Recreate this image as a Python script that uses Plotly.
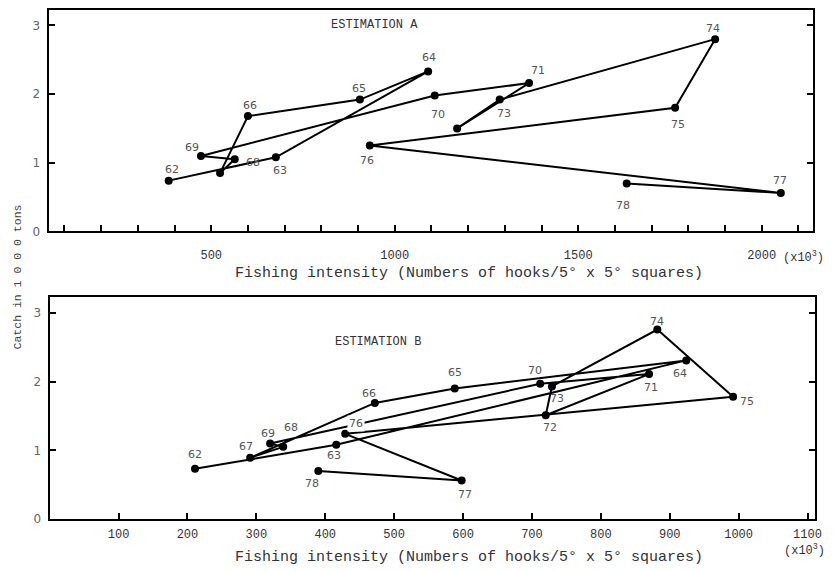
import plotly.graph_objects as go

# ---------------- data ----------------
years = ["62", "63", "64", "65", "66", "67", "68", "69", "70",
         "71", "72", "73", "74", "75", "76", "77", "78"]

# Estimation A
intensity_a = [384, 676, 1091, 905, 600, 524, 564, 472, 1109,
               1366, 1170, 1286, 1873, 1764, 932, 2052, 1632]
catch_a = [0.74, 1.08, 2.33, 1.92, 1.68, 0.85, 1.05, 1.10, 1.98,
           2.16, 1.50, 1.92, 2.80, 1.80, 1.25, 0.56, 0.70]

# Estimation B
intensity_b = [211, 416, 924, 588, 472, 291, 339, 320, 712,
               870, 720, 729, 882, 992, 429, 598, 390]
catch_b = [0.73, 1.08, 2.31, 1.90, 1.69, 0.89, 1.05, 1.10, 1.97,
           2.11, 1.51, 1.93, 2.76, 1.78, 1.24, 0.56, 0.70]

ticks_a = list(range(100, 2200, 100))
ticklabels_a = ["500", "1000", "1500", "2000"]
ticks_b = list(range(100, 1200, 100))
ticklabels_b = [str(v) for v in ticks_b]
yticks = [0, 1, 2, 3]

# ---------------- styling ----------------
# the page body keeps its default 8px margin, so the figure is 8px smaller
OFF = 8
W, H = 834 - OFF, 571 - OFF
KY = 0.986  # small vertical compensation observed in the rendered page
MONO = "Liberation Mono"
SANS = "DejaVu Sans"
GREY = "#555555"

# label offsets in px (dx, dy up)
off_a = {"62": (3, 11), "63": (4, -13), "64": (1, 14), "65": (-1, 11), "66": (2, 11),
         "68": (18, -3), "69": (-9, 8), "70": (3, -19), "71": (9, 13), "73": (4, -14),
         "74": (-2, 11), "75": (3, -17), "76": (-3, -15), "77": (-1, 13), "78": (-4, -22)}
off_b = {"62": (0, 14), "63": (-2, -11), "64": (-6, -13), "65": (0, 16), "66": (-6, 9),
         "67": (-4, 11), "68": (8, 19), "69": (-2, 10), "70": (-5, 13), "71": (2, -13),
         "72": (4, -12), "73": (5, -12), "74": (0, 8), "75": (14, -5), "76": (11, 10),
         "77": (3, -14), "78": (-6, -13)}


def px(x):
    return (x - OFF) / W


def py(y):
    return 1 - (y / KY - OFF) / H


fig = go.Figure()
fig.add_trace(go.Scatter(x=intensity_a, y=catch_a, mode="lines+markers",
                         line=dict(color="black", width=2),
                         marker=dict(color="black", size=8),
                         xaxis="x", yaxis="y", hoverinfo="skip", showlegend=False))
fig.add_trace(go.Scatter(x=intensity_b, y=catch_b, mode="lines+markers",
                         line=dict(color="black", width=2),
                         marker=dict(color="black", size=8),
                         xaxis="x2", yaxis="y2", hoverinfo="skip", showlegend=False))

annotations = []
for yr, xv, yv in zip(years, intensity_a, catch_a):
    if yr in off_a:
        dx, dy = off_a[yr]
        annotations.append(dict(x=xv, y=yv, xref="x", yref="y", text=yr, showarrow=False,
                                xanchor="center", yanchor="middle",
                                xshift=dx, yshift=dy, font=dict(family=SANS, size=11, color=GREY)))
for yr, xv, yv in zip(years, intensity_b, catch_b):
    if yr in off_b:
        dx, dy = off_b[yr]
        annotations.append(dict(x=xv, y=yv, xref="x2", yref="y2", text=yr, showarrow=False,
                                xanchor="center", yanchor="middle",
                                xshift=dx, yshift=dy,
                                bgcolor="white" if yr == "76" else None,
                                font=dict(family=SANS, size=11, color=GREY)))


def paper_text(x, y, text, size, color="#333", angle=0):
    return dict(x=px(x), y=py(y), xref="paper", yref="paper", text=text, showarrow=False,
                xanchor="center", yanchor="middle", textangle=angle,
                font=dict(family=MONO, size=size, color=color))


annotations += [
    paper_text(378, 25, "ESTIMATION A", 12),
    paper_text(381, 341, "ESTIMATION B", 12),
    paper_text(473, 273, "Fishing intensity (Numbers of hooks/5° x 5° squares)", 15),
    paper_text(473, 557, "Fishing intensity (Numbers of hooks/5° x 5° squares)", 15),
    paper_text(810, 256, "(x10<sup>3</sup>)", 12),
    paper_text(811, 549, "(x10<sup>3</sup>)", 12),
    paper_text(18, 276, "Catch in 1 0 0 0 tons", 11.5, color="#444", angle=-90),
]

axis_common = dict(showline=True, linecolor="black", linewidth=2, showgrid=False, zeroline=False,
                   ticks="inside", tickcolor="black", tickwidth=2, ticklen=6)

fig.update_layout(
    width=W, height=H, margin=dict(l=0, r=0, t=0, b=0),
    paper_bgcolor="white", plot_bgcolor="white",
    xaxis=dict(domain=[px(49), px(820)], range=[57, 2140], anchor="y",
               tickvals=ticks_a,
               ticktext=[str(v) if str(v) in ticklabels_a else "" for v in ticks_a],
               mirror=True, ticklabelstandoff=11,
               tickfont=dict(family=MONO, size=12, color="#333"), **axis_common),
    yaxis=dict(domain=[py(231), py(9.5)], range=[0, 3.23], anchor="x",
               tickvals=yticks, mirror="ticks", ticklabelstandoff=4,
               tickfont=dict(family=SANS, size=12, color="#666"), **axis_common),
    xaxis2=dict(domain=[px(50), px(822)], range=[0, 1111], anchor="y2",
                tickvals=ticks_b, ticktext=ticklabels_b,
                mirror=True, ticklabelstandoff=3,
                tickfont=dict(family=MONO, size=12, color="#333"), **axis_common),
    yaxis2=dict(domain=[py(518), py(296)], range=[0, 3.24], anchor="x2",
                tickvals=yticks, mirror="ticks", ticklabelstandoff=4,
                tickfont=dict(family=SANS, size=12, color="#666"), **axis_common),
    annotations=annotations,
)

fig.write_html("out.html", config={"displayModeBar": False})
